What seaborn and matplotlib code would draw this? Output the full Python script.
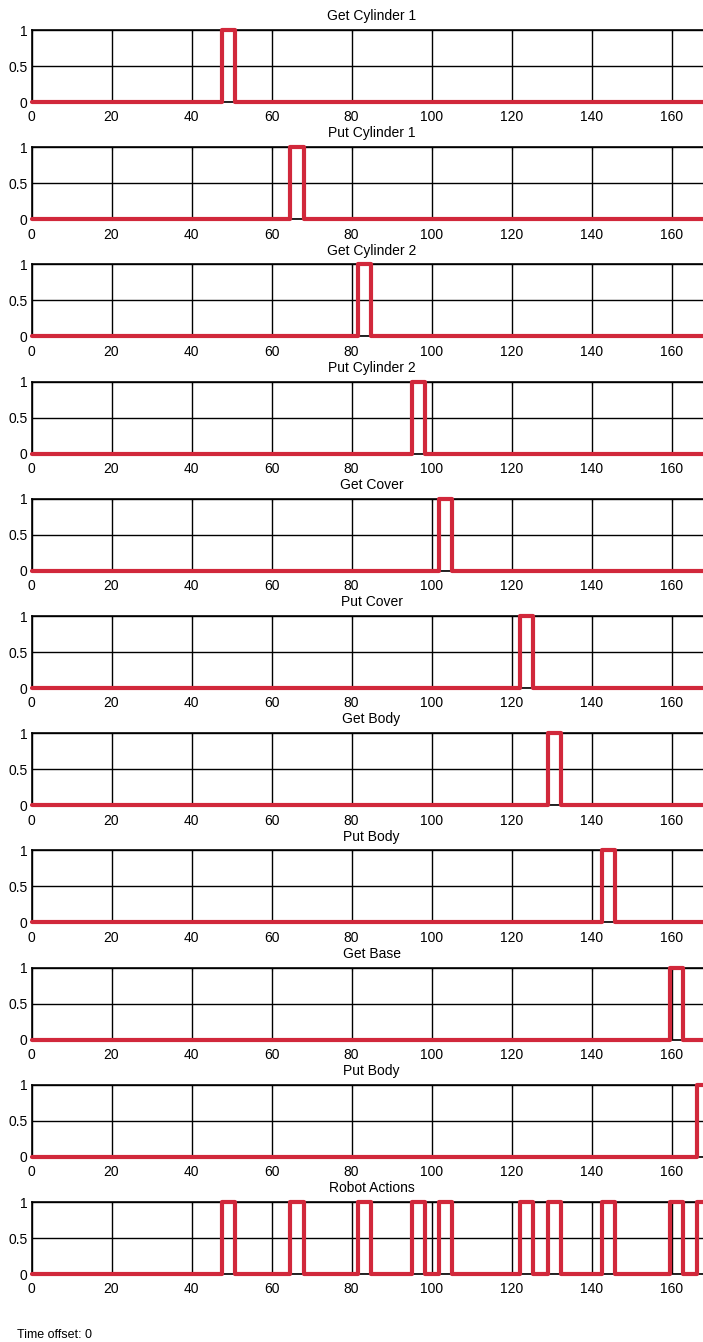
import matplotlib
matplotlib.use("Agg")
import matplotlib.pyplot as plt
import numpy as np
import pandas as pd
import seaborn as sns


TITLES = [
    "Get Cylinder 1",
    "Put Cylinder 1",
    "Get Cylinder 2",
    "Put Cylinder 2",
    "Get Cover",
    "Put Cover",
    "Get Body",
    "Put Body",
    "Get Base",
    "Put Body",
]
PULSE_START = [47.6, 64.7, 81.5, 95.2, 101.8, 122.2, 129.2, 142.6, 159.7, 166.4]
PULSE_END = [50.8, 68.0, 84.8, 98.4, 105.0, 125.4, 132.3, 145.8, 162.8, 169.6]

ROBOT_TITLE = "Robot Actions"
ROBOT_START = [47.6, 64.7, 81.5, 95.2, 101.8, 122.2, 129.2, 142.6, 159.7, 166.4]
ROBOT_END = [50.8, 68.0, 84.8, 98.4, 105.0, 125.4, 132.3, 145.8, 162.8, 169.6]

X_TICKS = [0, 20, 40, 60, 80, 100, 120, 140, 160]
Y_TICKS = [0, 0.5, 1]
Y_TICK_LABELS = ["0", "0.5", "1"]
T_MAX = 170
FOOTER = "Time offset: 0"

RED = "#d1283b"
FONT = ["Liberation Sans Narrow", "Liberation Sans", "DejaVu Sans"]

W, H = 703, 1342
AX_LEFT = 31.5
AX_TOP0 = 30
AX_STEP = 117.2
AX_HEIGHT = 72
PX_PER_UNIT = 4.0


def pulse_frame(starts, ends) -> pd.DataFrame:
    xs, ys = [0.0], [0.0]
    for s, e in zip(starts, ends):
        xs += [s, s, e, e]
        ys += [0.0, 1.0, 1.0, 0.0]
    xs.append(T_MAX)
    ys.append(0.0)
    return pd.DataFrame({"t": xs, "v": ys})


def draw_panel(fig, idx, title, starts, ends):
    top = AX_TOP0 + AX_STEP * idx
    rect = [
        AX_LEFT / W,
        1 - (top + AX_HEIGHT) / H,
        T_MAX * PX_PER_UNIT / W,
        AX_HEIGHT / H,
    ]
    ax = fig.add_axes(rect)
    df = pulse_frame(starts, ends)
    sns.lineplot(
        data=df, x="t", y="v", ax=ax, sort=False, estimator=None,
        color=RED, linewidth=3.0, clip_on=False, zorder=5,
    )
    ax.set_xlim(0, T_MAX)
    ax.set_ylim(0, 1)
    ax.set_xticks(X_TICKS)
    ax.set_xticklabels([str(t) for t in X_TICKS])
    ax.set_yticks(Y_TICKS)
    ax.set_yticklabels(Y_TICK_LABELS)
    ax.grid(True, color="black", linewidth=1.0)
    ax.set_axisbelow(True)
    for side in ["top", "bottom", "left", "right"]:
        ax.spines[side].set_color("black")
        ax.spines[side].set_linewidth(1.2)
    ax.tick_params(direction="in", length=2, width=0.8, labelsize=10,
                   top=True, colors="black", labelcolor="black")
    ax.tick_params(axis="x", pad=6)
    ax.tick_params(axis="y", pad=3)
    ax.set_xlabel("")
    ax.set_ylabel("")
    ax.set_title(title, fontsize=10, pad=7, family=FONT, color="black")
    for lab in ax.get_xticklabels() + ax.get_yticklabels():
        lab.set_family(FONT)
    return ax


sns.set_style("white")
plt.rcParams["font.family"] = FONT
plt.rcParams["text.color"] = "black"

fig = plt.figure(figsize=(W / 100, H / 100), dpi=100)
fig.patch.set_facecolor("white")

for i, (title, s, e) in enumerate(zip(TITLES, PULSE_START, PULSE_END)):
    draw_panel(fig, i, title, [s], [e])

draw_panel(fig, len(TITLES), ROBOT_TITLE, ROBOT_START, ROBOT_END)

fig.text(17 / W, 1 - 1335 / H, FOOTER, fontsize=9, family=FONT,
         color="black", ha="left", va="center")

fig.savefig("out.png", dpi=100)
